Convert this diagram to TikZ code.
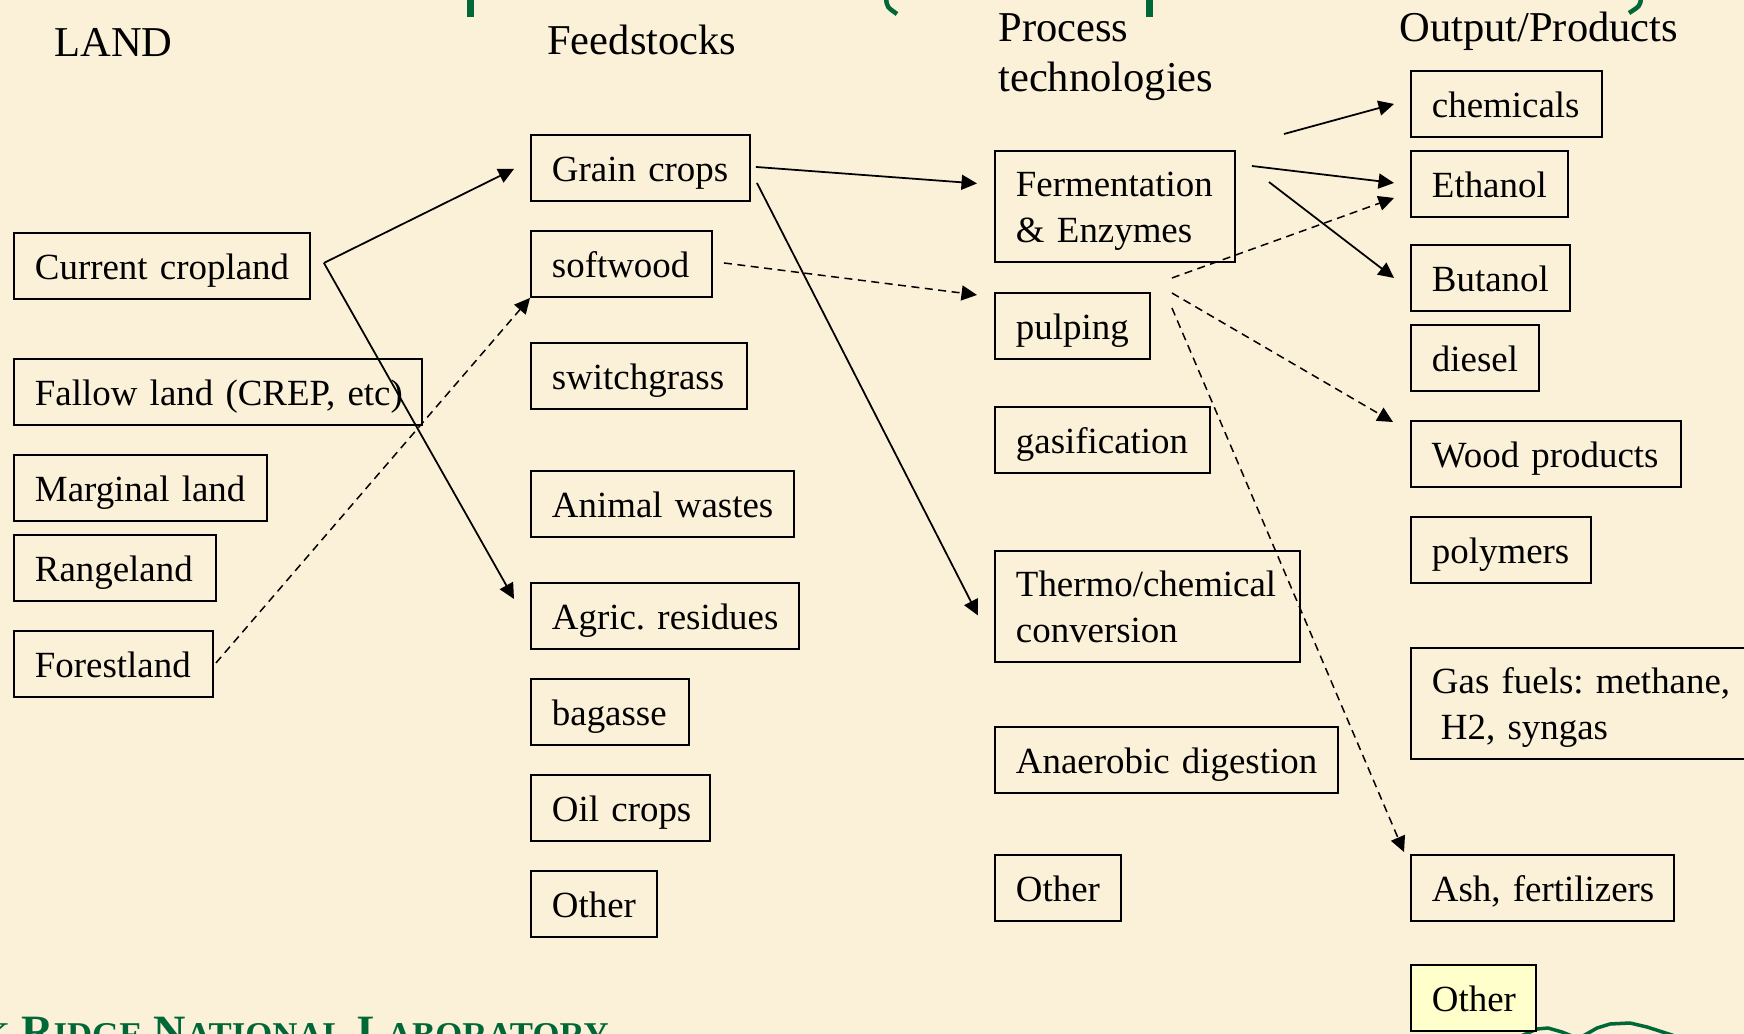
\documentclass[tikz,border=0pt]{standalone}
\usepackage{fontspec}
\setmainfont{Liberation Serif}
\usepackage{tikz}
\usetikzlibrary{arrows.meta,calc}

\definecolor{paper}{HTML}{FBF0D8}
\definecolor{ornlgreen}{HTML}{006837}
\definecolor{paleyellow}{HTML}{FFFFCC}

\frenchspacing

\begin{document}
\begin{tikzpicture}[
    x=0.02cm,
    y=-0.02cm,
    >={Triangle[length=3.1mm,width=3mm]},
    blk/.style={draw=black, line width=1.1pt, anchor=north west, inner ysep=0pt,
                inner xsep=0.42cm, align=left, minimum height=1.32cm,
                text height=0.62cm, text depth=0.08cm,
                font=\fontsize{21}{26.2}\selectfont},
    blktwo/.style={blk, minimum height=2.22cm, text depth=1.0cm},
    yellowblk/.style={blk, fill=paleyellow},
    head/.style={anchor=base west, inner sep=0pt, align=left, text width=6cm,
                 font=\fontsize{24.2}{28.4}\selectfont},
    flow/.style={->, line width=1pt, black},
    dflow/.style={->, line width=0.85pt, black, dash pattern=on 0.16cm off 0.11cm},
    greenmark/.style={ornlgreen, line width=0.07cm, line join=round, line cap=round},
]
\newcommand{\bx}[6][blk]{%
  \pgfmathsetmacro{\bxw}{#5*0.02}%
  \pgfmathsetmacro{\bxt}{#5*0.02-0.84}%
  \node[#1, minimum width=\bxw cm, text width=\bxt cm] (#2) at (#3,#4) {\mbox{#6}};%
}
\newcommand{\bxtwo}[7]{%
  \pgfmathsetmacro{\bxw}{#4*0.02}%
  \pgfmathsetmacro{\bxt}{#4*0.02-0.84}%
  \node[blktwo, minimum width=\bxw cm, text width=\bxt cm] (#1) at (#2,#3)
    {\mbox{#5}\\\mbox{#6#7}};%
}
\newcommand{\fsc}[2]{#1{\fontsize{19.8}{22}\selectfont #2}}

\useasboundingbox (0,0) rectangle (1744,1034);
\clip (0,0) rectangle (1744,1034);
\fill[paper] (0,0) rectangle (1744,1034);

% slide remnants
\fill[ornlgreen] (467,0) rectangle (474,17);
\fill[ornlgreen] (1146,0) rectangle (1153,17);
\draw[ornlgreen, line width=0.09cm] (886,-2) .. controls (887,7) .. (897,14);
\draw[ornlgreen, line width=0.09cm] (1641,-2) .. controls (1640,6) .. (1629,13);
\node[anchor=base east, inner sep=0pt, text=ornlgreen,
      font=\fontsize{25.5}{28}\selectfont\bfseries] (lab) at (609,1046)
  {\fsc{O}{AK} \fsc{R}{IDGE} \fsc{N}{ATIONAL} \fsc{L}{ABORATORY}};
\draw[greenmark] (1521,1036) -- (1537,1029) -- (1548,1028) -- (1562,1032) -- (1572,1036);
\draw[greenmark] (1583,1036) -- (1597,1028) -- (1610,1024) -- (1630,1023)
  -- (1647,1027) -- (1675,1036);

% column heads
\node[head] (hland) at (54,57) {LAND};
\node[head] (hfeed) at (547,55) {Feedstocks};
\node[head] (hproc) at (998,42) {Process\\technologies};
\node[head] (hout) at (1399,42) {Output/Products};

% land
\bx{crop}{13}{232}{296}{Current cropland}
\bx{fallow}{13}{358}{408}{Fallow land (CREP, etc)}
\bx{marginal}{13}{454}{253}{Marginal land}
\bx{range}{13}{534}{202}{Rangeland}
\bx{forest}{13}{630}{199}{Forestland}

% feedstocks
\bx{grain}{530}{134}{219}{Grain crops}
\bx{softwood}{530}{230}{181}{softwood}
\bx{switch}{530}{342}{216}{switchgrass}
\bx{animal}{530}{470}{263}{Animal wastes}
\bx{agric}{530}{582}{268}{Agric. residues}
\bx{bagasse}{530}{678}{158}{bagasse}
\bx{oil}{530}{774}{179}{Oil crops}
\bx{otherfeed}{530}{870}{126}{Other}

% process technologies
\bxtwo{ferm}{994}{150}{240}{Fermentation}{\& Enzymes}{}
\bx{pulp}{994}{292}{155}{pulping}
\bx{gasif}{994}{406}{215}{gasification}
\bxtwo{thermo}{994}{550}{305}{Thermo/chemical}{conversion}{}
\bx{anaer}{994}{726}{343}{Anaerobic digestion}
\bx{otherproc}{994}{854}{126}{Other}

% outputs
\bx{chem}{1410}{70}{191}{chemicals}
\bx{ethanol}{1410}{150}{157}{Ethanol}
\bx{butanol}{1410}{244}{159}{Butanol}
\bx{diesel}{1410}{324}{128}{diesel}
\bx{wood}{1410}{420}{270}{Wood products}
\bx{polymers}{1410}{516}{180}{polymers}
\bxtwo{gas}{1410}{647}{360}{Gas fuels: methane,}{\hspace*{0.18cm}}{H2, syngas}
\bx{ash}{1410}{854}{263}{Ash, fertilizers}
\bx[yellowblk]{otherout}{1410}{964}{125}{Other}

% connector ends
\coordinate (cropfork) at ($(crop.east)+(13,-3)$);
\coordinate (grainin) at ($(grain.west)+(-16,1)$);
\coordinate (agricin) at ($(agric.west)+(-16,-17)$);
\coordinate (forestout) at ($(forest.east)+(2,-1)$);
\coordinate (grainout) at ($(grain.east)+(5,-1)$);
\coordinate (grainlow) at ($(grain.east)+(6,15)$);
\coordinate (fermin) at ($(ferm.west)+(-17,-23)$);
\coordinate (thermoin) at ($(thermo.west)+(-16,9)$);
\coordinate (softout) at ($(softwood.east)+(11,-1)$);
\coordinate (pulpin) at ($(pulp.west)+(-17,-31)$);
\coordinate (chemfrom) at ($(ferm.north east)+(48,-16)$);
\coordinate (chemin) at ($(chem.west)+(-16,0)$);
\coordinate (fermout) at ($(ferm.north east)+(16,16)$);
\coordinate (fermlow) at ($(ferm.north east)+(33,32)$);
\coordinate (ethin) at ($(ethanol.west)+(-16,-1)$);
\coordinate (ethlow) at ($(ethanol.west)+(-16,14)$);
\coordinate (butin) at ($(butanol.west)+(-16,0)$);
\coordinate (pulpout) at ($(pulp.north east)+(21,-14)$);
\coordinate (pulpmid) at ($(pulp.north east)+(21,1)$);
\coordinate (pulplow) at ($(pulp.north east)+(21,16)$);
\coordinate (woodin) at ($(wood.north west)+(-17,2)$);
\coordinate (ashin) at ($(ash.north west)+(-6,-2)$);

% land -> feedstocks
\draw[flow] (cropfork) -- (grainin);
\draw[flow] (cropfork) -- (agricin);
\draw[dflow] (forestout) -- (softwood.south west);

% feedstocks -> process
\draw[flow] (grainout) -- (fermin);
\draw[flow] (grainlow) -- (thermoin);
\draw[dflow] (softout) -- (pulpin);

% process -> outputs
\draw[flow] (chemfrom) -- (chemin);
\draw[flow] (fermout) -- (ethin);
\draw[flow] (fermlow) -- (butin);
\draw[dflow] (pulpout) -- (ethlow);
\draw[dflow] (pulpmid) -- (woodin);
\draw[dflow] (pulplow) -- (ashin);
\end{tikzpicture}
\end{document}
